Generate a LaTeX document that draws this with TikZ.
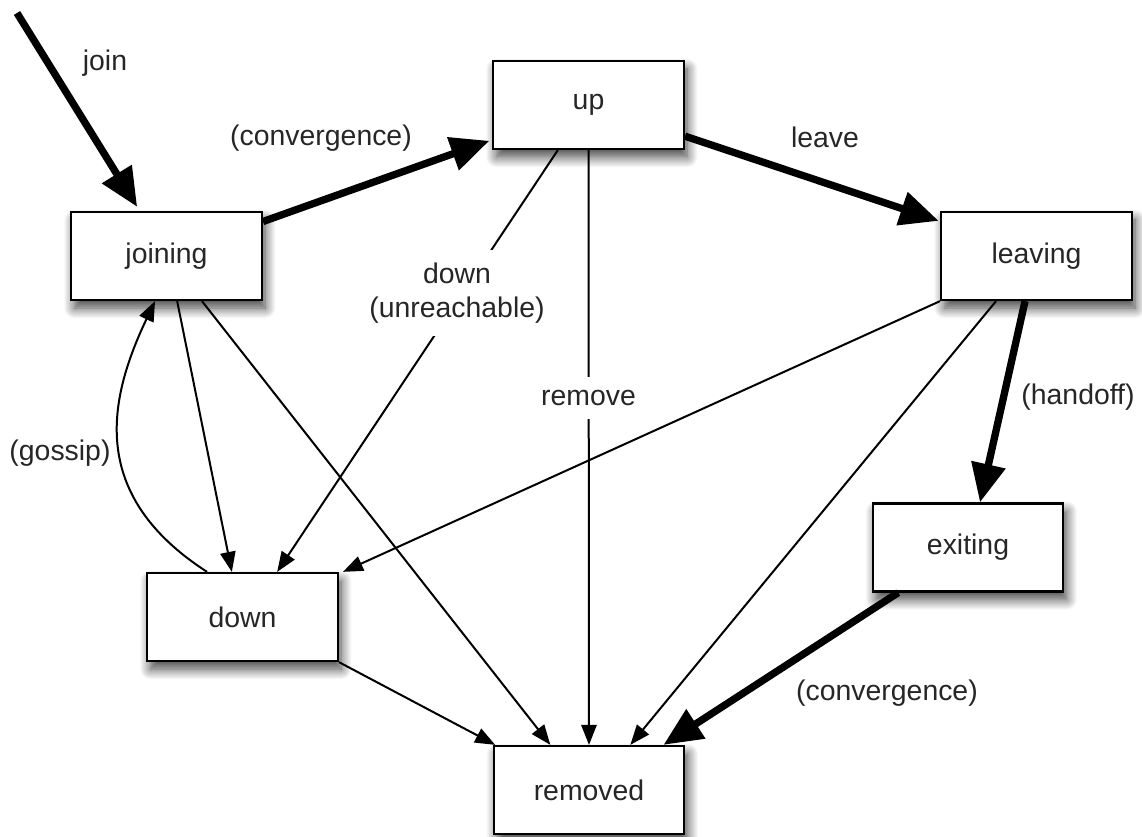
\documentclass[tikz,border=0pt]{standalone}
\usepackage{fontspec}
\setmainfont{Liberation Sans}
\usetikzlibrary{arrows.meta,shadows.blur,calc}
\begin{document}
\begin{tikzpicture}[x=0.75pt,y=-0.75pt,
  font=\fontsize{21.3}{25}\selectfont,
  state/.style={draw=black, line width=1.7pt, fill=white, minimum width=143pt, minimum height=66pt,
    inner sep=0pt, text=black!85,
    blur shadow={shadow xshift=2.5pt, shadow yshift=-6pt, shadow blur radius=8pt, shadow blur steps=14, shadow opacity=75}},
  thin/.style={line width=1.5pt, -{Triangle[length=15pt,width=11.5pt]}},
  thick/.style={line width=5.5pt, -{Triangle[length=29pt,width=25pt]}},
  lbl/.style={text=black!85, inner sep=0pt},
  cut/.style={text=black!85, fill=white, inner xsep=3pt, inner ysep=10pt, align=center}
]
\useasboundingbox (0,0) rectangle (1142,837);

\node[state] (joining) at (166.5,256) {joining};
\node[state] (up) at (588.5,105) {up};
\node[state] (leaving) at (1036.5,256) {leaving};
\node[state] (exiting) at (968,547.5) {exiting};
\node[state] (down) at (242.5,617) {down};
\node[state] (removed) at (589,790) {removed};

\coordinate (joinstart) at (17,13);

% thick arrows
\draw[thick] (joinstart) -- ([xshift=-22pt,yshift=3pt]joining.north);
\draw[thick] ([yshift=-8pt]joining.north east) -- ([xshift=-2pt,yshift=7pt]up.south west);
\draw[thick] ([yshift=10.5pt]up.south east) -- ([xshift=-1pt,yshift=-7.5pt]leaving.north west);
\draw[thick] ([xshift=-8.6pt]leaving.south) -- ([xshift=9pt]exiting.north);
\draw[thick] ([xshift=20pt]exiting.south west) -- ([xshift=-16.5pt]removed.north east);

% thin arrows
\draw[thin] (up.south) -- (removed.north);
\draw[thin] ([xshift=42pt]leaving.south west) -- ([xshift=31pt]removed.north);
\draw[thin] (leaving.south west) -- ([xshift=3pt]down.north east);
\draw[thin] ([xshift=8pt]joining.south) -- ([xshift=-8pt]down.north);
\draw[thin] ([xshift=26.6pt]joining.south) -- ([xshift=-29pt]removed.north);
\draw[thin] ([xshift=-23pt]up.south) -- ([xshift=26pt]down.north);
\draw[thin] (down.south east) -- ([xshift=2pt]removed.north west);
\draw[thin] ([xshift=-26.6pt]down.north) .. controls (88,495) and (108,400) .. ([xshift=-8.6pt]joining.south);

% labels
\node[lbl] (ljoin) at (105,63) {join};
\node[lbl] (lconv1) at (321,138) {(convergence)};
\node[lbl] (lleave) at (825,137) {leave};
\node[cut] (lunreach) at (457,293) {down\\[0pt](unreachable)};
\node[cut] (lremove) at (588.5,398) {remove};
\node[lbl] (lgossip) at (60,453) {(gossip)};
\node[lbl] (lhandoff) at (1078,397) {(handoff)};
\node[lbl] (lconv2) at (887,693) {(convergence)};
\end{tikzpicture}
\end{document}
